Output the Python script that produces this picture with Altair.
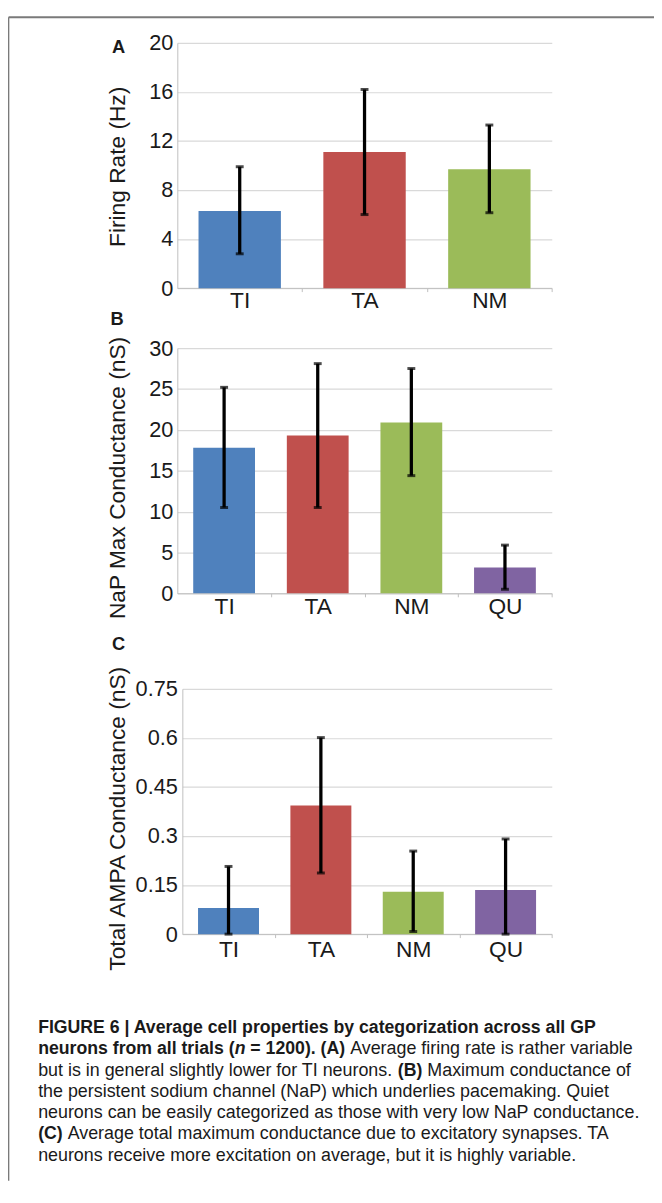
import altair as alt
import pandas as pd

# ---------------- data ----------------
cats3 = ["TI", "TA", "NM"]
cats4 = ["TI", "TA", "NM", "QU"]

rate_mean = [6.3, 11.1, 9.7]
rate_lo = [2.8, 6.0, 6.15]
rate_hi = [9.9, 16.2, 13.3]

nap_mean = [17.8, 19.3, 20.9, 3.15]
nap_lo = [10.5, 10.5, 14.4, 0.5]
nap_hi = [25.2, 28.1, 27.5, 5.9]

ampa_mean = [0.08, 0.393, 0.13, 0.135]
ampa_lo = [0.0, 0.187, 0.008, 0.0]
ampa_hi = [0.207, 0.601, 0.254, 0.291]

rate_ticks = [0, 4, 8, 12, 16, 20]
nap_ticks = [0, 5, 10, 15, 20, 25, 30]
ampa_ticks = [0, 0.15, 0.3, 0.45, 0.6, 0.75]

titles = ["Firing Rate (Hz)", "NaP Max Conductance (nS)", "Total AMPA Conductance (nS)"]
letters = ["A", "B", "C"]
colors = ["#4f81bd", "#c0504d", "#9bbb59", "#8064a2"]

caption_text = [
    ["FIGURE 6 | Average cell properties by categorization across all GP"],
    ["neurons from all trials (", "n", " = 1200). (A)", " Average firing rate is rather variable"],
    ["but is in general slightly lower for TI neurons. ", "(B)", " Maximum conductance of"],
    ["the persistent sodium channel (NaP) which underlies pacemaking. Quiet"],
    ["neurons can be easily categorized as those with very low NaP conductance."],
    ["(C)", " Average total maximum conductance due to excitatory synapses. TA"],
    ["neurons receive more excitation on average, but it is highly variable."],
]
caption_style = [
    ["b"],
    ["b", "bi", "b", "r"],
    ["r", "b", "r"],
    ["r"],
    ["r"],
    ["b", "r"],
    ["r"],
]

# ---------------- layout (page pixels) ----------------
FONT = "Liberation Sans"
OX, OY = 179.4, 36.0          # plot-area origin on the page
PLOT_R = 558.5
W = PLOT_R - OX
H = 938.3 - OY
SVG_W, SVG_H = 654.0, 1180.0
PAD_L, PAD_T = OX - 8, OY - 8
PAD_R = SVG_W - PAD_L - W
PAD_B = SVG_H - PAD_T - H

GRID = "#d9d9d9"
AXIS = "#bfbfbf"
TXT = "#1a1a1a"

one = pd.DataFrame({"k": [0]})


def panel(cats, mean, lo, hi, ticks, title, ytop, ybot, xleft, title_y, xoff, yoff, xlabpad, ylabpad):
    df = pd.DataFrame({"cat": cats, "mean": mean, "lo": lo, "hi": hi})
    step = (W - xleft) / len(cats)
    xs = alt.Scale(domain=cats, range=[xleft, W], paddingInner=0.34, paddingOuter=0.17)
    ys = alt.Scale(domain=[ticks[0], ticks[-1]], range=[ybot, ytop], nice=False, zero=True)
    xax = alt.Axis(orient="bottom", offset=xoff, title=None, labelAngle=0, labelFont=FONT,
                   labelFontSize=23, labelColor=TXT, labelPadding=xlabpad, domainColor=AXIS,
                   domainWidth=1, tickColor=AXIS, tickSize=3.5, tickWidth=1,
                   tickOffset=step / 2, labelOffset=-step / 2, grid=False)
    yax = alt.Axis(orient="left", offset=yoff, values=ticks, format=".2~f", ticks=False,
                   grid=True, gridColor=GRID, gridWidth=1.2, domainColor=AXIS, domainWidth=1,
                   labelFont=FONT, labelFontSize=22, labelColor=TXT, labelPadding=ylabpad,
                   labelOverlap=False, labelFlush=False,
                   title=title, titleFont=FONT, titleFontSize=23, titleFontWeight="normal",
                   titleColor=TXT, titleAngle=270, titleAlign="center", titleBaseline="alphabetic",
                   titleX=125.8 - OX + yoff, titleY=title_y - OY)
    base = alt.Chart(df)
    X = alt.X("cat:N", scale=xs, axis=xax, sort=cats)
    bars = base.mark_bar().encode(
        x=X,
        y=alt.Y("mean:Q", scale=ys, axis=yax),
        color=alt.Color("cat:N", scale=alt.Scale(domain=cats4, range=colors), legend=None),
    )
    rule = base.mark_rule(color="black", strokeWidth=3.3).encode(
        x=X, y=alt.Y("lo:Q", scale=ys, axis=yax), y2="hi:Q")
    cap_lo = base.mark_tick(color="black", size=8, thickness=3, orient="horizontal").encode(
        x=X, y=alt.Y("lo:Q", scale=ys, axis=yax))
    cap_hi = base.mark_tick(color="black", size=8, thickness=3, orient="horizontal").encode(
        x=X, y=alt.Y("hi:Q", scale=ys, axis=yax))
    return alt.layer(bars, rule, cap_lo, cap_hi)


pA = panel(cats3, rate_mean, rate_lo, rate_hi, rate_ticks, titles[0],
           ytop=36 - OY, ybot=284.3 - OY, xleft=0, title_y=161,
           xoff=(284.3 - OY) - H, yoff=0, xlabpad=-1.5, ylabpad=4.5)
pB = panel(cats4, nap_mean, nap_lo, nap_hi, nap_ticks, titles[1],
           ytop=345 - OY, ybot=593.3 - OY, xleft=0, title_y=476,
           xoff=(593.3 - OY) - H, yoff=0, xlabpad=-1.5, ylabpad=4.5)
pC = panel(cats4, ampa_mean, ampa_lo, ampa_hi, ampa_ticks, titles[2],
           ytop=690 - OY, ybot=938.3 - OY, xleft=184.5 - OX, title_y=821,
           xoff=0, yoff=-(184.5 - OX), xlabpad=1, ylabpad=5)


def txt(t, x, y, size, weight="normal", style="normal", align="left", baseline="alphabetic"):
    return alt.Chart(one).mark_text(
        text=t, font=FONT, fontSize=size, fontWeight=weight, fontStyle=style,
        align=align, baseline=baseline, color=TXT,
    ).encode(x=alt.value(x - OX), y=alt.value(y - OY))


deco = []
# frame
deco.append(alt.Chart(one).mark_rule(color="#7a7a7a", strokeWidth=2).encode(
    x=alt.value(8.6 - OX), x2=alt.value(SVG_W + 8 - OX), y=alt.value(10 - OY)))
deco.append(alt.Chart(one).mark_rule(color="#7a7a7a", strokeWidth=1.5).encode(
    x=alt.value(8.6 - OX), y=alt.value(10 - OY), y2=alt.value(SVG_H + 8 - OY)))

# panel letters
for lt, (lx, ly) in zip(letters, [(120, 40), (118.5, 315.5), (120, 645)]):
    deco.append(txt(lt, lx, ly, 18.5, weight="bold", align="center", baseline="middle"))

# caption (Arial / Liberation Sans advance widths, per 1000 em)
REG = dict(zip("abcdefghijklmnopqrstuvwxyz",
               [556, 556, 500, 556, 556, 278, 556, 556, 222, 222, 500, 222, 833, 556, 556, 556,
                556, 333, 500, 278, 556, 500, 722, 500, 500, 500]))
REG.update({" ": 278, ".": 278, ",": 278, "(": 333, ")": 333, "|": 260, "=": 584,
            "T": 611, "I": 278, "A": 667, "B": 667, "C": 722, "M": 833, "N": 722, "P": 667, "Q": 778})
BOLD = dict(zip("abcdefghijklmnopqrstuvwxyz",
                [556, 611, 556, 611, 556, 333, 611, 611, 278, 278, 556, 278, 889, 611, 611, 611,
                 611, 389, 556, 333, 611, 556, 778, 556, 556, 500]))
BOLD.update({" ": 278, ".": 278, ",": 278, "(": 333, ")": 333, "|": 280, "=": 584,
             "A": 722, "B": 722, "C": 722, "E": 667, "F": 611, "G": 778, "I": 278, "P": 667,
             "R": 722, "U": 722})
for d in "0123456789":
    REG[d] = 556
    BOLD[d] = 556

SIZE_R, SIZE_B = 18.1, 17.9
CAP_X = 38.5
CAP_Y0 = 1038.5
CAP_DY = 21.5


def seg_width(s, st):
    tab = REG if st == "r" else BOLD
    size = SIZE_R if st == "r" else SIZE_B
    return sum(tab.get(ch, 556) for ch in s) * size / 1000.0


for i, (segs, sts) in enumerate(zip(caption_text, caption_style)):
    x = CAP_X
    y = CAP_Y0 + i * CAP_DY
    for s, st in zip(segs, sts):
        lead = len(s) - len(s.lstrip(" "))
        x_draw = x + seg_width(" " * lead, st)
        weight = "normal" if st == "r" else "bold"
        style = "italic" if st == "bi" else "normal"
        size = SIZE_R if st == "r" else SIZE_B
        deco.append(txt(s.strip(" "), x_draw, y, size, weight=weight, style=style))
        x += seg_width(s, st)

chart = alt.layer(pA, pB, pC, *deco).resolve_scale(
    x="independent", y="independent"
).properties(
    width=W,
    height=H,
    autosize=alt.AutoSizeParams(type="none"),
    padding={"left": PAD_L, "top": PAD_T, "right": PAD_R, "bottom": PAD_B},
    background="white",
).configure_view(stroke="transparent")

chart.save("out.html", embed_options={"renderer": "svg", "actions": False})
